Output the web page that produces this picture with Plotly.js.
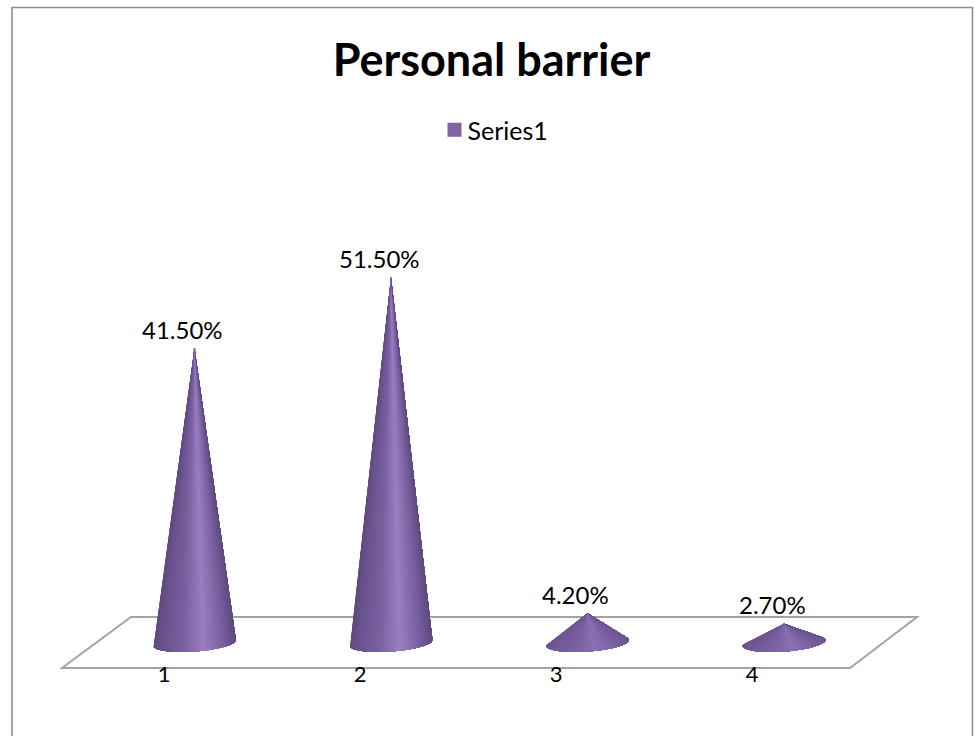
<!DOCTYPE html>
<html>
<head>
<meta charset="utf-8">
<script src="https://cdn.plot.ly/plotly-3.0.1.min.js"></script>
<style>html,body{margin:0;padding:0;background:#fff}#chart{width:976px;height:736px}</style>
</head>
<body>
<div id="chart"></div>
<script>
// Chart content
const chartTitle = 'Personal barrier';
const seriesName = 'Series1';
const categories = [1, 2, 3, 4];
const values = [41.5, 51.5, 4.2, 2.7];
const valueLabels = ['41.50%', '51.50%', '4.20%', '2.70%'];

// Page geometry in pixels
const W = 976, H = 736;
const pxPerCategory = 196.5;
const pxPerUnit = 7.1;
const firstCentre = 194.5;
const baseline = 643;
const yMin = -6, yMax = 60;

// Cone base: a slightly tilted ellipse, sized in pixels
const baseA = 41.5, baseB = 8.5, baseTilt = Math.atan2(6, 83);
const wedgesPerCone = 70;

// Cone shading across the visible base arc, left to right
const shadeStops = [
  [0.00, [94, 74, 128]],
  [0.10, [106, 82, 142]],
  [0.35, [122, 96, 160]],
  [0.60, [154, 126, 194]],
  [0.85, [120, 94, 158]],
  [1.00, [94, 74, 126]]
];
const flatShade = [124, 98, 164];

// Low cones catch less of the highlight, so their shading is flatter
function shade(f, contrast) {
  let c = flatShade;
  for (let i = 1; i < shadeStops.length; i++) {
    if (f <= shadeStops[i][0]) {
      const [f0, c0] = shadeStops[i - 1], [f1, c1] = shadeStops[i];
      const k = (f - f0) / (f1 - f0);
      c = c0.map((v, j) => v + (c1[j] - v) * k);
      break;
    }
  }
  const m = c.map((v, j) => Math.round(flatShade[j] + (v - flatShade[j]) * contrast));
  return `rgb(${m[0]},${m[1]},${m[2]})`;
}

// Point on the base ellipse, returned as axis values
function basePoint(cat, t) {
  const ex = baseA * Math.cos(t), ey = baseB * Math.sin(t);
  const dx = ex * Math.cos(baseTilt) - ey * Math.sin(baseTilt);
  const dy = ex * Math.sin(baseTilt) + ey * Math.cos(baseTilt);
  return [cat + dx / pxPerCategory, dy / pxPerUnit];
}

// One cone is a stack of fans from the apex to the part of the base facing the
// viewer, bounded by the tangents through the apex. Each fan reaches the right
// end of the arc and is painted over by the next one, so no seams appear.
function coneTraces(cat, value) {
  const h = value * pxPerUnit;
  const ax = h * Math.sin(baseTilt), ay = h * Math.cos(baseTilt);
  const p = ax / baseA, q = ay / baseB;
  const R = Math.hypot(p, q), theta = Math.atan2(q, p), gap = Math.acos(1 / R);
  const tStart = theta + gap, tEnd = theta + 2 * Math.PI - gap;
  const step = (tEnd - tStart) / wedgesPerCone;
  const contrast = value > 10 ? 1 : 0.5;
  const out = [];
  for (let i = 0; i < wedgesPerCone; i++) {
    const xs = [cat], ys = [value];
    for (let j = i; j <= wedgesPerCone; j++) {
      const pt = basePoint(cat, tStart + step * j);
      xs.push(pt[0]);
      ys.push(pt[1]);
    }
    xs.push(cat);
    ys.push(value);
    const col = shade((1 + Math.cos(tStart + step * (i + 0.5))) / 2, contrast);
    out.push({
      type: 'scatter', mode: 'lines', fill: 'toself', fillcolor: col,
      x: xs, y: ys, line: {width: 0},
      hoverinfo: 'skip', showlegend: false
    });
  }
  return out;
}

// Hairline bars on the cone axes carry the legend swatch
const legendBars = {
  type: 'bar', name: seriesName, x: categories, y: values, width: 0,
  marker: {color: '#8064A2', line: {color: '#8064A2', width: 2}},
  hoverinfo: 'skip'
};

const traces = [legendBars];
categories.forEach((c, i) => traces.push(...coneTraces(c, values[i])));

// The category axis needs a trace of its own so that its labels are drawn
traces.push({type: 'scatter', mode: 'none', x: categories, y: values, xaxis: 'x2', showlegend: false, hoverinfo: 'skip'});

const px = v => v / W, py = v => 1 - v / H;
const font = 'Lato, "Open Sans", sans-serif';
const plotLeft = firstCentre - pxPerCategory / 2;
const plotRight = plotLeft + pxPerCategory * categories.length;
const plotBottom = baseline - yMin * pxPerUnit;
const plotTop = baseline - yMax * pxPerUnit;

const layout = {
  width: W, height: H,
  margin: {l: 0, r: 0, t: 0, b: 0},
  paper_bgcolor: '#fff', plot_bgcolor: 'rgba(0,0,0,0)',
  font: {family: font, color: '#000'},
  title: {
    text: '<b>' + chartTitle + '</b>',
    font: {family: font, size: 45, color: '#000'},
    x: px(491.5), xanchor: 'center', xref: 'paper',
    y: py(60), yanchor: 'middle', yref: 'paper'
  },
  showlegend: true,
  legend: {
    x: px(490.5), xanchor: 'center', y: py(130), yanchor: 'middle',
    orientation: 'h', font: {family: font, size: 25, color: '#000'},
    bgcolor: 'rgba(0,0,0,0)', itemwidth: 30
  },
  xaxis: {
    domain: [px(plotLeft), px(plotRight)], range: [0.5, 4.5],
    showgrid: false, zeroline: false, showline: false, showticklabels: false, ticks: ''
  },
  yaxis: {
    domain: [py(plotBottom), py(plotTop)], range: [yMin, yMax],
    showgrid: false, zeroline: false, showline: false, showticklabels: false, ticks: ''
  },
  // Category numbers sit along the front edge of the floor
  xaxis2: {
    domain: [px(66), px(850)], range: [0.5, 4.5],
    anchor: 'free', position: py(659), side: 'bottom',
    tickmode: 'array', tickvals: categories, ticktext: categories.map(String),
    showgrid: false, zeroline: false, showline: false, ticks: '',
    tickfont: {family: font, size: 22, color: '#000'}
  },
  shapes: [
    {type: 'rect', xref: 'paper', yref: 'paper', x0: px(12), x1: px(972.5), y0: -0.02, y1: py(7.5),
     line: {color: '#8c8c8c', width: 1.6}, layer: 'below'},
    {type: 'path', xref: 'paper', yref: 'paper', layer: 'below',
     path: `M${px(62)},${py(668)} L${px(850)},${py(668)} L${px(917)},${py(617)} L${px(131)},${py(617)} Z`,
     line: {color: '#a3a3a3', width: 2}}
  ],
  annotations: categories.map((c, i) => ({
    x: c, y: values[i], xref: 'x', yref: 'y', text: valueLabels[i],
    showarrow: false, xshift: -12, yshift: 19, yanchor: 'middle',
    font: {family: font, size: 24, color: '#000'}
  }))
};

// The swatch sits closer to its text than the legend's default spacing allows
Plotly.newPlot('chart', traces, layout, {displayModeBar: false, staticPlot: true}).then(gd => {
  gd.querySelectorAll('.legend .legendsymbols').forEach(n => n.setAttribute('transform', 'translate(7,0)'));
});
</script>
</body>
</html>
